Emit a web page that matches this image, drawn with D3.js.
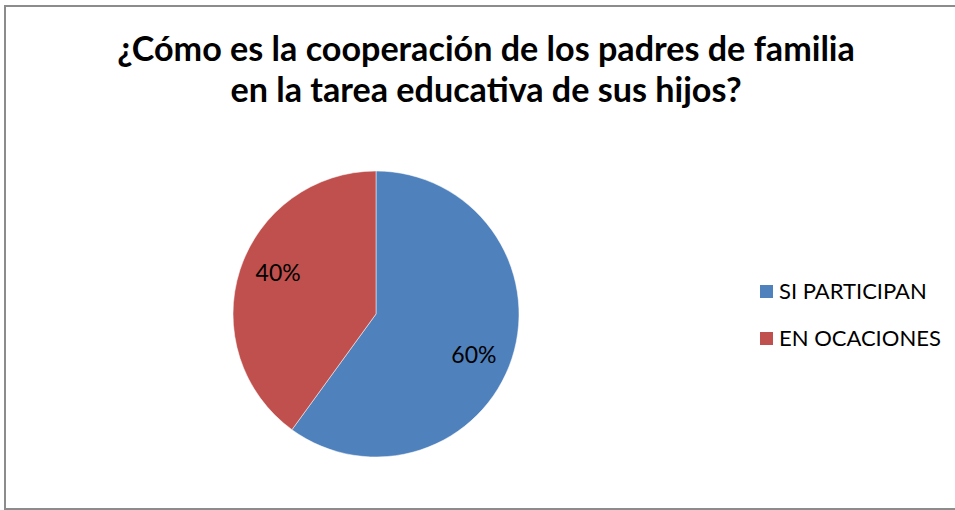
<!DOCTYPE html>
<html>
<head>
<meta charset="utf-8">
<script src="https://d3js.org/d3.v7.min.js"></script>
<style>
  body { margin: 0; background: #fff; }
  text { font-family: Lato, "Open Sans", sans-serif; }
</style>
</head>
<body>
<div id="chart"></div>
<script>

// data
var categories = ["SI PARTICIPAN", "EN OCACIONES"];
var values = [60, 40];
var labels = ["60%", "40%"];
var colors = ["#4F81BD", "#C0504D"];
var titleLines = ["¿Cómo es la cooperación de los padres de familia",
                  "en la tarea educativa de sus hijos?"];

var width = 955, height = 510;

var svg = d3.select("#chart")
  .append("svg")
    .attr("width", width)
    .attr("height", height);

svg.append("rect")
  .attr("x", 5)
  .attr("y", 6)
  .attr("width", 970)
  .attr("height", 503)
  .attr("fill", "#fff")
  .attr("stroke", "#8c8c8c")
  .attr("stroke-width", 2);

// title, sized to match the reference width of the first line
var title = svg.append("g");
var t1 = title.append("text")
  .attr("x", 486)
  .attr("y", 61)
  .attr("text-anchor", "middle")
  .style("font-weight", "bold")
  .style("font-size", "30px")
  .text(titleLines[0]);
var w1 = t1.node().getComputedTextLength();
var titleSize = 30 * 738 / w1;
t1.style("font-size", titleSize + "px");
title.append("text")
  .attr("x", 486)
  .attr("y", 102)
  .attr("text-anchor", "middle")
  .style("font-weight", "bold")
  .style("font-size", titleSize + "px")
  .text(titleLines[1]);

// pie
var cx = 376, cy = 314, radius = 143;

var pie = d3.pie()
  .sort(null)
  .value(function(d) { return d; });

var arc = d3.arc()
  .innerRadius(0)
  .outerRadius(radius);

var labelR = 106, labelShift = 0.08; // excel "best fit" sits a bit clockwise of the middle

var g = svg.append("g")
  .attr("transform", "translate(" + cx + "," + cy + ")");

var arcs = pie(values);

g.selectAll("path")
  .data(arcs)
  .enter()
  .append("path")
    .attr("d", arc)
    .attr("fill", function(d, i) { return colors[i]; })
    .attr("stroke", "#fff")
    .attr("stroke-width", 0.5);

g.selectAll("text.lbl")
  .data(arcs)
  .enter()
  .append("text")
    .attr("class", "lbl")
    .attr("transform", function(d) {
      var a = (d.startAngle + d.endAngle) / 2 + labelShift;
      return "translate(" + (labelR * Math.sin(a)) + "," + (-labelR * Math.cos(a)) + ")";
    })
    .attr("text-anchor", "middle")
    .attr("dy", "0.35em")
    .style("font-size", "23px")
    .style("fill", "#000")
    .text(function(d, i) { return labels[i]; });

// legend
var legend = svg.append("g")
  .attr("transform", "translate(760,285)");

var item = legend.selectAll("g")
  .data(categories)
  .enter()
  .append("g")
    .attr("transform", function(d, i) { return "translate(0," + (i * 47) + ")"; });

item.append("rect")
  .attr("width", 13)
  .attr("height", 13)
  .attr("fill", function(d, i) { return colors[i]; });

item.append("text")
  .attr("x", 19)
  .attr("y", 14)
  .style("font-size", "22px")
  .style("fill", "#000")
  .text(function(d) { return d; });

</script>
</body>
</html>
